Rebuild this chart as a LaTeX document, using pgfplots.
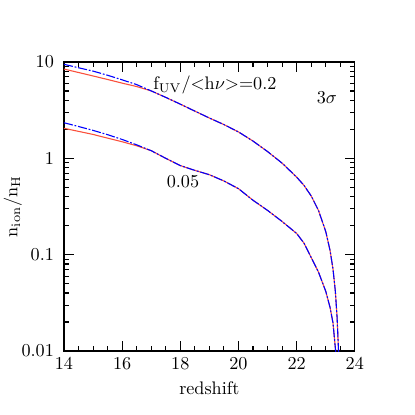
\documentclass[border=0pt]{standalone}
\usepackage{pgfplots}
\pgfplotsset{compat=1.18}
\definecolor{sred}{RGB}{250,80,60}
\definecolor{sblue}{RGB}{0,0,255}

\begin{document}
\begin{tikzpicture}
\begin{axis}[
    scale only axis,
    width=160pt, height=159pt,
    xmin=14, xmax=24,
    ymin=0.01, ymax=10,
    ymode=log,
    xtick={14,16,...,24},
    minor x tick num=3,
    ytick={0.01,0.1,1,10},
    yticklabels={0.01,0.1,1,10},
    minor ytick={0.02,0.03,0.04,0.05,0.06,0.07,0.08,0.09,
                 0.2,0.3,0.4,0.5,0.6,0.7,0.8,0.9,
                 2,3,4,5,6,7,8,9},
    tick align=inside,
    ticks=both,
    xtick pos=both, ytick pos=both,
    major tick length=5.5pt,
    minor tick length=2.75pt,
    tick style={black, line width=0.6pt},
    axis line style={line width=0.6pt},
    yticklabel style={xshift=-2pt},
    xlabel={redshift},
    ylabel={$\mathrm{n_{ion}/n_H}$},
    ylabel style={yshift=-7pt},
]
% upper pair, f_UV/<h nu> = 0.2
\addplot[sred, line width=0.6pt] coordinates {
(14,8.45) (14.5,7.78) (15,7.16) (15.5,6.58) (16,6.03) (16.5,5.56) (17,5.01)
(17.5,4.29) (18,3.65) (18.5,3.09) (19,2.62) (19.5,2.24) (20,1.88) (20.5,1.51)
(21,1.175) (21.5,0.891) (22,0.638) (22.25,0.525) (22.5,0.407) (22.75,0.288)
(23,0.174) (23.15,0.110) (23.25,0.0708) (23.33,0.0417) (23.39,0.0224)
(23.44,0.010) (23.47,0.005)
};
\addplot[sblue, line width=0.6pt, dash pattern=on 5pt off 1pt on 1pt off 1pt] coordinates {
(14,9.46) (14.5,8.71) (15,8.04) (15.5,7.28) (16,6.53) (16.5,5.82) (17,5.01)
(17.5,4.29) (18,3.65) (18.5,3.09) (19,2.62) (19.5,2.24) (20,1.88) (20.5,1.51)
(21,1.175) (21.5,0.891) (22,0.638) (22.25,0.525) (22.5,0.407) (22.75,0.288)
(23,0.174) (23.15,0.110) (23.25,0.0708) (23.33,0.0417) (23.39,0.0224)
(23.44,0.010) (23.47,0.005)
};
% lower pair, 0.05
\addplot[sred, line width=0.6pt] coordinates {
(14,2.05) (14.5,1.905) (15,1.77) (15.5,1.62) (16,1.486) (16.5,1.35) (17,1.20)
(17.5,1.0) (18,0.841) (18.5,0.75) (19,0.676) (19.5,0.582) (20,0.484)
(20.5,0.367) (21,0.288) (21.5,0.221) (22,0.166) (22.25,0.132) (22.5,0.0933)
(22.75,0.066) (23,0.0417) (23.15,0.0282) (23.25,0.0195) (23.34,0.010) (23.37,0.005)
};
\addplot[sblue, line width=0.6pt, dash pattern=on 5pt off 1pt on 1pt off 1pt] coordinates {
(14,2.34) (14.5,2.14) (15,1.95) (15.5,1.76) (16,1.57) (16.5,1.38) (17,1.20)
(17.5,1.0) (18,0.841) (18.5,0.75) (19,0.676) (19.5,0.582) (20,0.484)
(20.5,0.367) (21,0.288) (21.5,0.221) (22,0.166) (22.25,0.132) (22.5,0.0933)
(22.75,0.066) (23,0.0417) (23.15,0.0282) (23.25,0.0195) (23.34,0.010) (23.37,0.005)
};
\node at (axis cs:19.19,5.77) {$\mathrm{f_{UV}/{<}h}\nu{>}{=}0.2$};
\node at (axis cs:23.04,4.24) {$3\sigma$};
\node at (axis cs:18.09,0.569) {0.05};
\end{axis}
\pgfresetboundingbox
\path ([shift={(-35.2pt,-35.2pt)}]current axis.south west)
  rectangle ([shift={(33pt,34.1pt)}]current axis.north east);
\end{tikzpicture}
\end{document}
